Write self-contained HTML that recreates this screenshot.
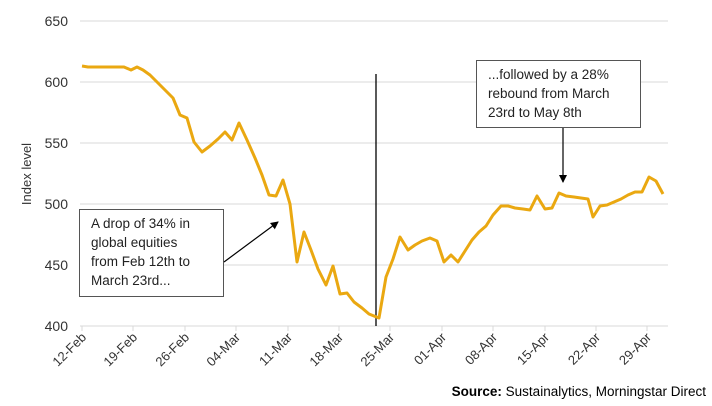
<!DOCTYPE html>
<html><head><style>
body{margin:0;background:#fff;width:712px;height:401px;overflow:hidden}
text{font-family:"Liberation Sans",Arial,sans-serif}
</style></head><body>
<svg width="712" height="401" viewBox="0 0 712 401">
<defs><marker id="ah" markerWidth="8" markerHeight="8" refX="7" refY="4" orient="auto" markerUnits="userSpaceOnUse"><path d="M0,0 L8,4 L0,8 z" fill="#000"/></marker></defs>
<g stroke="#d9d9d9" stroke-width="1">
<line x1="80" y1="21" x2="668" y2="21"/><line x1="80" y1="82" x2="668" y2="82"/><line x1="80" y1="143" x2="668" y2="143"/><line x1="80" y1="204" x2="668" y2="204"/><line x1="80" y1="265" x2="668" y2="265"/><line x1="80" y1="326" x2="668" y2="326"/>
</g>
<g stroke="#d9d9d9"><line x1="82" y1="326" x2="82" y2="331"/><line x1="133" y1="326" x2="133" y2="331"/><line x1="185" y1="326" x2="185" y2="331"/><line x1="236" y1="326" x2="236" y2="331"/><line x1="288" y1="326" x2="288" y2="331"/><line x1="339" y1="326" x2="339" y2="331"/><line x1="390" y1="326" x2="390" y2="331"/><line x1="442" y1="326" x2="442" y2="331"/><line x1="493" y1="326" x2="493" y2="331"/><line x1="545" y1="326" x2="545" y2="331"/><line x1="596" y1="326" x2="596" y2="331"/><line x1="647" y1="326" x2="647" y2="331"/></g>
<g font-size="14" fill="#333" text-anchor="end">
<text x="68" y="26">650</text><text x="68" y="87">600</text><text x="68" y="148">550</text><text x="68" y="209">500</text><text x="68" y="270">450</text><text x="68" y="331">400</text>
</g>
<text transform="translate(31,174) rotate(-90)" font-size="13" fill="#333" text-anchor="middle">Index level</text>
<g font-size="13" fill="#333" text-anchor="end">
<text transform="translate(87,338) rotate(-45)">12-Feb</text>
<text transform="translate(138,338) rotate(-45)">19-Feb</text>
<text transform="translate(190,338) rotate(-45)">26-Feb</text>
<text transform="translate(241,338) rotate(-45)">04-Mar</text>
<text transform="translate(293,338) rotate(-45)">11-Mar</text>
<text transform="translate(344,338) rotate(-45)">18-Mar</text>
<text transform="translate(395,338) rotate(-45)">25-Mar</text>
<text transform="translate(447,338) rotate(-45)">01-Apr</text>
<text transform="translate(498,338) rotate(-45)">08-Apr</text>
<text transform="translate(550,338) rotate(-45)">15-Apr</text>
<text transform="translate(601,338) rotate(-45)">22-Apr</text>
<text transform="translate(652,338) rotate(-45)">29-Apr</text>
</g>
<line x1="376" y1="74" x2="376" y2="326" stroke="#000" stroke-width="1.3"/>
<polyline fill="none" stroke="#eaa811" stroke-width="3" stroke-linejoin="round" points="82,66 88,67 95,67 102,67 110,67 117,67 124,67 131,70 137,67 143,70 150,75 157,82 165,90 173,98 180,115 187,118 194,142 202,152 210,146 218,139 225,132 232,140 239,123 247,140 255,158 262,175 269,195 276,196 283,180 290,204 297,262 304,232 311,250 318,269 326,285 333,266 340,294 347,293 354,302 362,308 369,314 379,318 386,277 393,259 400,237 408,250 415,245 422,241 430,238 437,241 444,262 451,255 458,262 465,251 472,240 479,232 486,226 493,215 501,206 508,206 515,208 523,209 530,210 537,196 545,209 552,208 559,193 566,196 574,197 581,198 588,199 593,217 600,206 607,205 614,202 621,199 628,195 635,192 642,192 649,177 656,181 663,194"/>
<rect x="79.5" y="209.5" width="144" height="87" fill="#fff" stroke="#555" stroke-width="1"/>
<g font-size="13.5" fill="#222"><text x="91" y="228">A drop of 34% in</text><text x="91" y="247">global equities</text><text x="91" y="266">from Feb 12th to</text><text x="91" y="285">March 23rd...</text></g>
<line x1="224" y1="262" x2="278" y2="222" stroke="#000" stroke-width="1.2" marker-end="url(#ah)"/>
<rect x="476.5" y="60.5" width="164" height="67" fill="#fff" stroke="#555" stroke-width="1"/>
<g font-size="13.5" fill="#222"><text x="488" y="79">...followed by a 28%</text><text x="488" y="98">rebound from March</text><text x="488" y="117">23rd to May 8th</text></g>
<line x1="563" y1="128" x2="563" y2="182" stroke="#000" stroke-width="1.2" marker-end="url(#ah)"/>
<text x="706" y="396" font-size="13.5" fill="#000" text-anchor="end"><tspan font-weight="bold">Source:</tspan> Sustainalytics, Morningstar Direct</text>
</svg>
</body></html>
